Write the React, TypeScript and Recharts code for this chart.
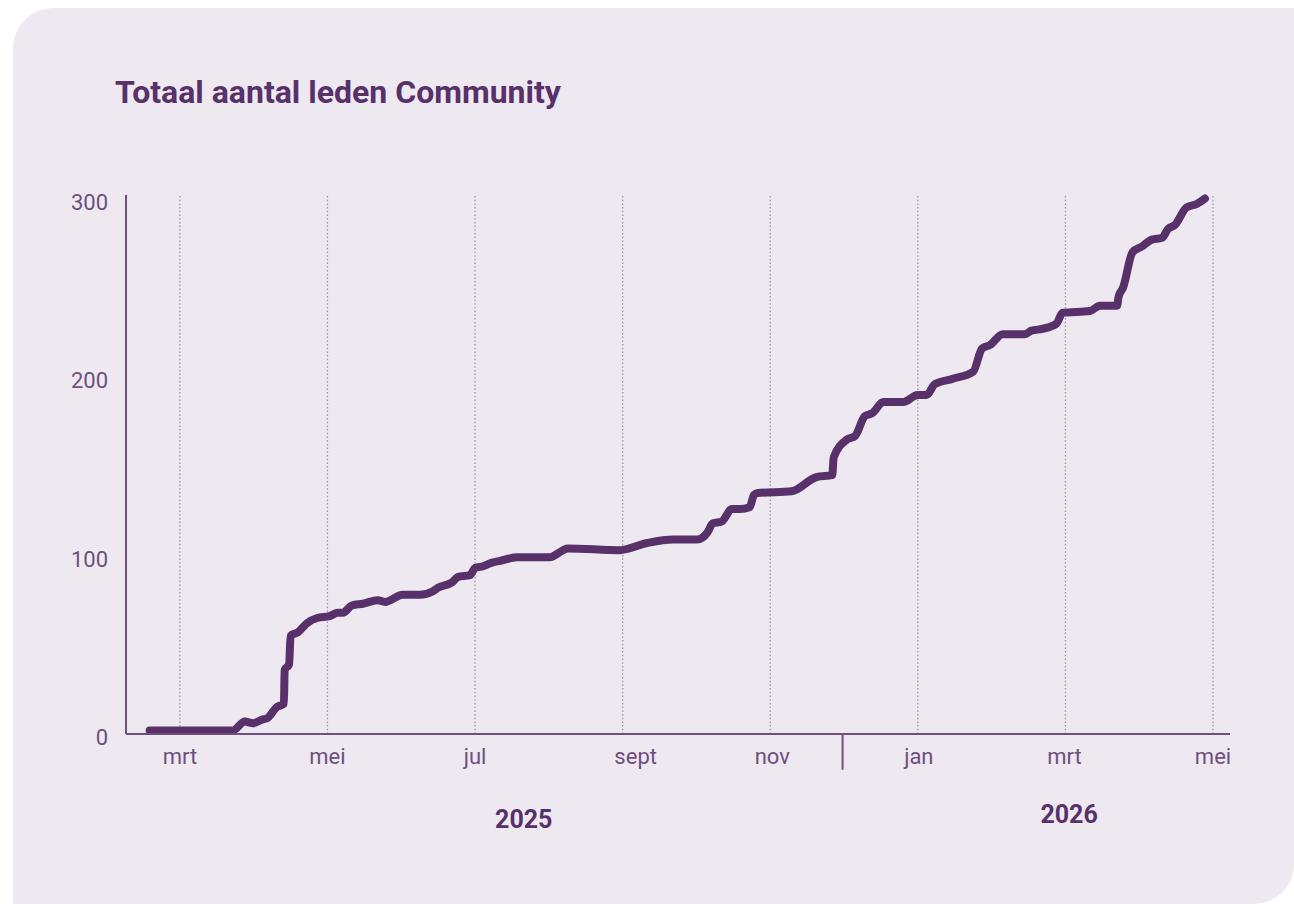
import { LineChart, Line, XAxis, YAxis, ReferenceLine } from "recharts";

// x = month index (0 = jan 2025), y = total members
const monthPos = [1.59, 2.54, 2.72, 2.88, 2.99, 3.11, 3.19, 3.31, 3.41, 3.42, 3.48, 3.5, 3.6, 3.72, 3.86, 4.03, 4.14, 4.21, 4.33, 4.48, 4.68, 4.78, 5.02, 5.25, 5.43, 5.5, 5.69, 5.77, 5.93, 6.0, 6.11, 6.23, 6.34, 6.57, 7.01, 7.26, 7.96, 8.33, 8.68, 9.01, 9.15, 9.22, 9.34, 9.48, 9.59, 9.72, 9.78, 9.83, 10.29, 10.63, 10.84, 10.86, 11.04, 11.15, 11.28, 11.39, 11.53, 11.8, 12.0, 12.12, 12.23, 12.47, 12.75, 12.87, 12.98, 13.15, 13.45, 13.54, 13.69, 13.88, 13.96, 14.33, 14.47, 14.7, 14.72, 14.78, 14.91, 15.03, 15.17, 15.31, 15.39, 15.48, 15.64, 15.78, 15.89];
const members = [2, 2, 2, 7, 6, 8, 9, 15, 17, 36, 39, 55, 57, 62, 65, 66, 68, 68, 72, 73, 75, 74, 78, 78, 80, 82, 85, 88, 89, 93, 94, 96, 97, 99, 99, 104, 103, 107, 109, 109, 113, 118, 119, 126, 126, 127, 134, 135, 136, 144, 145, 155, 165, 167, 178, 180, 186, 186, 190, 190, 196, 199, 203, 216, 218, 224, 224, 226, 227, 230, 236, 237, 240, 240, 245, 250, 270, 273, 277, 278, 283, 285, 295, 297, 300];

const monthTicks = [2, 4, 6, 8, 10, 12, 14, 16];
const monthLabels = ["mrt", "mei", "jul", "sept", "nov", "jan", "mrt", "mei"];
const monthShift = [0, 0, 0, 13, 2, 1, -1, 0];
const yearTicks = [6.66, 14.05];
const yearLabels = ["2025", "2026"];
const yearBreak = 10.98;
const valueTicks = [0, 100, 200, 300];

const data = monthPos.map((m, i) => ({ m, v: members[i] }));

const PURPLE = "#58306a";
const AXIS = "#6e4f7e";

const MonthTick = (props: any) => {
  const { x, y, payload } = props;
  const i = monthTicks.indexOf(payload.value);
  return (
    <text x={x + (monthShift[i] || 0)} y={y + 22} textAnchor="middle" fill={AXIS} fontSize={22} fontFamily="Roboto">
      {monthLabels[i]}
    </text>
  );
};

const YearTick = (props: any) => {
  const { x, y, payload } = props;
  const i = yearTicks.indexOf(payload.value);
  return (
    <text x={x} y={y + 56 - i * 5} textAnchor="middle" fill={PURPLE} fontSize={25} fontWeight={700} fontFamily="Roboto">
      {yearLabels[i]}
    </text>
  );
};

const ValueTick = (props: any) => {
  const { x, y, payload } = props;
  return (
    <text x={x - 10} y={y + 11} textAnchor="end" fill={AXIS} fontSize={22} fontFamily="Roboto">
      {payload.value}
    </text>
  );
};

export default function App() {
  return (
    <div style={{ position: "fixed", left: 0, top: 0, width: 1294, height: 904, background: "#fff", overflow: "hidden" }}>
      <div
        style={{
          position: "absolute",
          left: 13,
          top: 8,
          width: 1281,
          height: 896,
          background: "#eee9f0",
          borderRadius: "40px 0 40px 0",
        }}
      />
      <div
        style={{
          position: "absolute",
          left: 115,
          top: 72,
          fontFamily: "Roboto",
          fontWeight: 700,
          fontSize: 32,
          color: PURPLE,
          lineHeight: "40px",
        }}
      >
        Totaal aantal leden Community
      </div>
      <div style={{ position: "absolute", left: 0, top: 0 }}>
        <LineChart width={1294} height={904} data={data} margin={{ top: 195, right: 64, bottom: 80, left: 66 }}>
          <XAxis
            dataKey="m"
            type="number"
            domain={[1.27, 16.23]}
            ticks={monthTicks}
            allowDataOverflow
            tickLine={false}
            axisLine={{ stroke: AXIS, strokeWidth: 2 }}
            tick={<MonthTick />}
            height={30}
          />
          <XAxis
            xAxisId="years"
            dataKey="m"
            type="number"
            domain={[1.27, 16.23]}
            ticks={yearTicks}
            tickLine={false}
            axisLine={false}
            tick={<YearTick />}
            height={60}
          />
          <YAxis
            type="number"
            domain={[0, 302]}
            ticks={valueTicks}
            width={60}
            tickLine={false}
            axisLine={{ stroke: AXIS, strokeWidth: 2 }}
            tick={<ValueTick />}
          />
          {monthTicks.map((t) => (
            <ReferenceLine key={t} x={t} stroke="#9c95a2" strokeDasharray="1.5 2.2" strokeWidth={1.3} />
          ))}
          <ReferenceLine
            segment={[{ x: yearBreak, y: 0 }, { x: yearBreak, y: -20 }]}
            ifOverflow="visible"
            stroke={AXIS}
            strokeWidth={2}
          />
          <Line
            type="monotone"
            dataKey="v"
            stroke={PURPLE}
            strokeWidth={8}
            strokeLinecap="round"
            strokeLinejoin="round"
            dot={false}
            isAnimationActive={false}
          />
        </LineChart>
      </div>
    </div>
  );
}
